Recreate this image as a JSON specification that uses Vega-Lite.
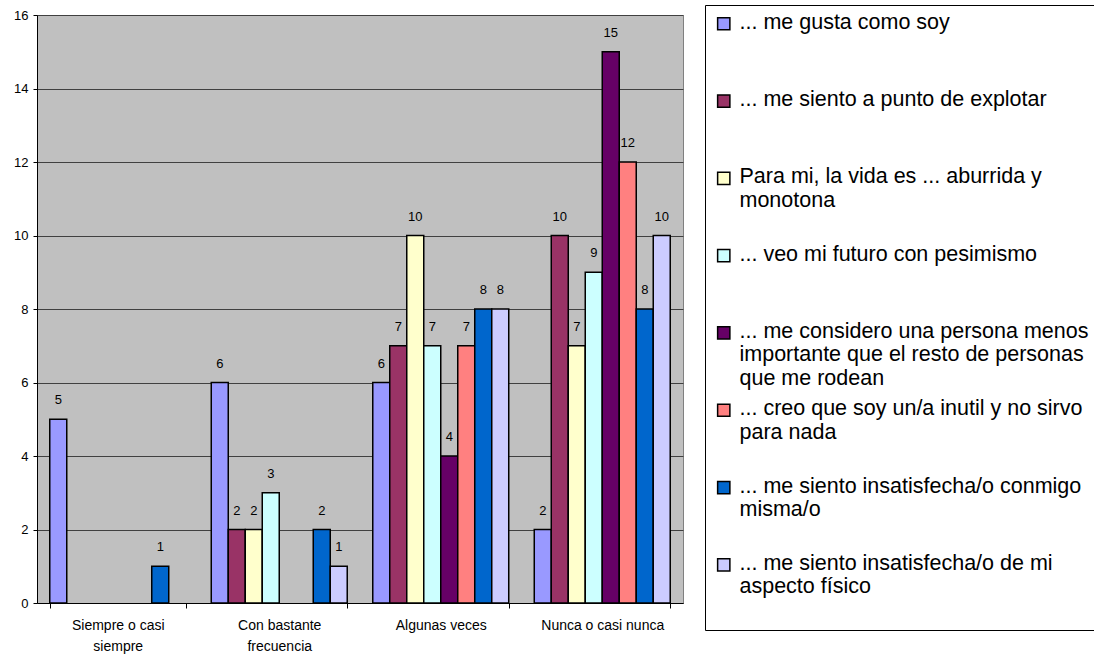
{
  "$schema": "https://vega.github.io/schema/vega-lite/v6.json",
  "width": 646,
  "height": 588,
  "autosize": {"type": "none"},
  "padding": {"left": 37, "top": 15, "right": 411, "bottom": 53},
  "background": "white",
  "config": {
    "view": {"fill": "#C0C0C0", "stroke": "#808080", "strokeWidth": 1},
    "font": "Liberation Sans"
  },
  "data": {
    "values": [
      {"cat": "Siempre o casi siempre", "serie": "... me gusta como soy", "n": 5},
      {"cat": "Siempre o casi siempre", "serie": "... me siento insatisfecha/o conmigo misma/o", "n": 1},
      {"cat": "Con bastante frecuencia", "serie": "... me gusta como soy", "n": 6},
      {"cat": "Con bastante frecuencia", "serie": "... me siento a punto de explotar", "n": 2},
      {"cat": "Con bastante frecuencia", "serie": "Para mi, la vida es ... aburrida y monotona", "n": 2},
      {"cat": "Con bastante frecuencia", "serie": "... veo mi futuro con pesimismo", "n": 3},
      {"cat": "Con bastante frecuencia", "serie": "... me siento insatisfecha/o conmigo misma/o", "n": 2},
      {"cat": "Con bastante frecuencia", "serie": "... me siento insatisfecha/o de mi aspecto físico", "n": 1},
      {"cat": "Algunas veces", "serie": "... me gusta como soy", "n": 6},
      {"cat": "Algunas veces", "serie": "... me siento a punto de explotar", "n": 7},
      {"cat": "Algunas veces", "serie": "Para mi, la vida es ... aburrida y monotona", "n": 10},
      {"cat": "Algunas veces", "serie": "... veo mi futuro con pesimismo", "n": 7},
      {"cat": "Algunas veces", "serie": "... me considero una persona menos importante que el resto de personas que me rodean", "n": 4},
      {"cat": "Algunas veces", "serie": "... creo que soy un/a inutil y no sirvo para nada", "n": 7},
      {"cat": "Algunas veces", "serie": "... me siento insatisfecha/o conmigo misma/o", "n": 8},
      {"cat": "Algunas veces", "serie": "... me siento insatisfecha/o de mi aspecto físico", "n": 8},
      {"cat": "Nunca o casi nunca", "serie": "... me gusta como soy", "n": 2},
      {"cat": "Nunca o casi nunca", "serie": "... me siento a punto de explotar", "n": 10},
      {"cat": "Nunca o casi nunca", "serie": "Para mi, la vida es ... aburrida y monotona", "n": 7},
      {"cat": "Nunca o casi nunca", "serie": "... veo mi futuro con pesimismo", "n": 9},
      {"cat": "Nunca o casi nunca", "serie": "... me considero una persona menos importante que el resto de personas que me rodean", "n": 15},
      {"cat": "Nunca o casi nunca", "serie": "... creo que soy un/a inutil y no sirvo para nada", "n": 12},
      {"cat": "Nunca o casi nunca", "serie": "... me siento insatisfecha/o conmigo misma/o", "n": 8},
      {"cat": "Nunca o casi nunca", "serie": "... me siento insatisfecha/o de mi aspecto físico", "n": 10}
    ]
  },
  "encoding": {
    "x": {
      "field": "cat",
      "type": "nominal",
      "sort": ["Siempre o casi siempre", "Con bastante frecuencia", "Algunas veces", "Nunca o casi nunca"],
      "scale": {"paddingInner": 0.158, "paddingOuter": 0.079},
      "axis": {
        "title": null,
        "labelAngle": 0,
        "labelFontSize": 14,
        "labelColor": "black",
        "labelLineHeight": 21,
        "labelPadding": 10,
        "labelBaseline": "top",
        "domainColor": "black",
        "tickColor": "black",
        "tickSize": 5,
        "tickBand": "extent",
        "labelExpr": "datum.value == 'Siempre o casi siempre' ? ['Siempre o casi', 'siempre'] : datum.value == 'Con bastante frecuencia' ? ['Con bastante', 'frecuencia'] : datum.value"
      }
    },
    "xOffset": {
      "field": "serie",
      "type": "nominal",
      "sort": [
        "... me gusta como soy",
        "... me siento a punto de explotar",
        "Para mi, la vida es ... aburrida y monotona",
        "... veo mi futuro con pesimismo",
        "... me considero una persona menos importante que el resto de personas que me rodean",
        "... creo que soy un/a inutil y no sirvo para nada",
        "... me siento insatisfecha/o conmigo misma/o",
        "... me siento insatisfecha/o de mi aspecto físico"
      ],
      "scale": {"paddingInner": 0, "paddingOuter": 0}
    },
    "y": {
      "field": "n",
      "type": "quantitative",
      "scale": {"domain": [0, 16], "nice": false},
      "axis": {
        "title": null,
        "values": [0, 2, 4, 6, 8, 10, 12, 14, 16],
        "labelFontSize": 13,
        "labelColor": "black",
        "labelPadding": 5,
        "tickSize": 4,
        "tickColor": "black",
        "domainColor": "black",
        "gridColor": "#404040",
        "gridOpacity": 1
      }
    }
  },
  "layer": [
    {
      "mark": {"type": "bar", "stroke": "black", "strokeWidth": 1.5},
      "encoding": {
        "color": {
          "field": "serie",
          "type": "nominal",
          "scale": {
            "domain": [
              "... me gusta como soy",
              "... me siento a punto de explotar",
              "Para mi, la vida es ... aburrida y monotona",
              "... veo mi futuro con pesimismo",
              "... me considero una persona menos importante que el resto de personas que me rodean",
              "... creo que soy un/a inutil y no sirvo para nada",
              "... me siento insatisfecha/o conmigo misma/o",
              "... me siento insatisfecha/o de mi aspecto físico"
            ],
            "range": ["#9999FF", "#993366", "#FFFFCC", "#CCFFFF", "#660066", "#FF8080", "#0066CC", "#CCCCFF"]
          },
          "legend": {
            "title": null,
            "orient": "none",
            "legendX": 668,
            "legendY": -10,
            "direction": "vertical",
            "symbolType": "square",
            "symbolSize": 150,
            "symbolStrokeColor": "black",
            "symbolStrokeWidth": 1.5,
            "symbolOpacity": 1,
            "labelFontSize": 21.5,
            "labelLineHeight": 26,
            "labelColor": "black",
            "labelLimit": 420,
            "labelOffset": 5,
            "labelBaseline": "top",
            "gridAlign": "all",
            "rowPadding": 7.3,
            "padding": 8,
            "strokeColor": "black",
            "fillColor": "white",
            "encode": {
              "symbols": {"update": {"dy": {"value": 1}}},
              "labels": {"update": {"dy": {"value": -12}}}
            },
            "labelExpr": "datum.value == 'Para mi, la vida es ... aburrida y monotona' ? ['Para mi, la vida es ... aburrida y', 'monotona'] : datum.value == '... me considero una persona menos importante que el resto de personas que me rodean' ? ['... me considero una persona menos', 'importante que el resto de personas', 'que me rodean'] : datum.value == '... creo que soy un/a inutil y no sirvo para nada' ? ['... creo que soy un/a inutil y no sirvo', 'para nada'] : datum.value == '... me siento insatisfecha/o conmigo misma/o' ? ['... me siento insatisfecha/o conmigo', 'misma/o'] : datum.value == '... me siento insatisfecha/o de mi aspecto físico' ? ['... me siento insatisfecha/o de mi', 'aspecto físico', ''] : datum.value"
          }
        }
      }
    },
    {
      "mark": {"type": "text", "baseline": "alphabetic", "dy": -15, "fontSize": 13, "color": "black"},
      "encoding": {"text": {"field": "n", "type": "quantitative"}}
    }
  ]
}
